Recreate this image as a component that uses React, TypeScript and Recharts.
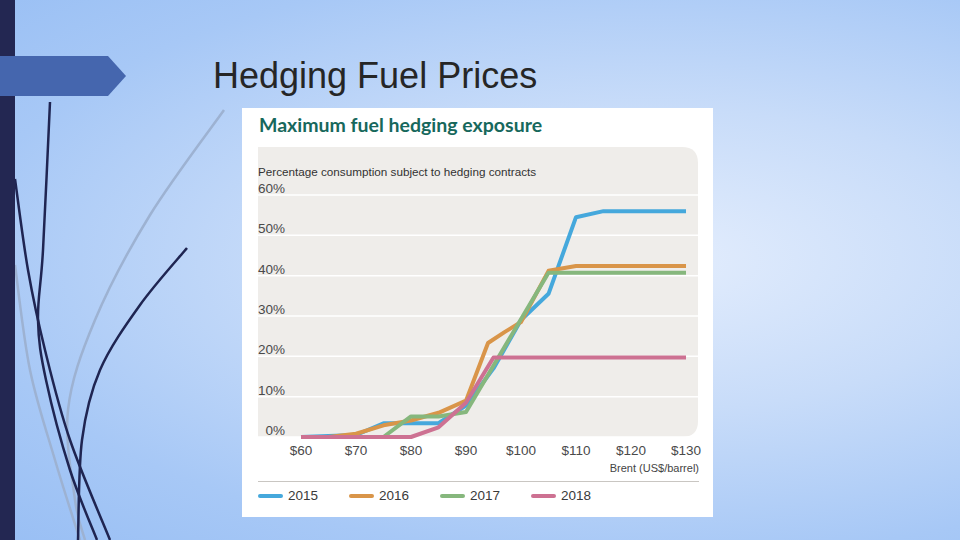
import React from 'react';
import { LineChart, Line, XAxis, YAxis, CartesianGrid, Legend } from 'recharts';

// Brent price (US$/barrel) and share of consumption hedged (%)
const prices2015 = [60, 70, 75, 85, 90, 95, 100, 105, 110, 115, 130];
const share2015 = [0, 0.5, 3.4, 3.4, 7.8, 17, 29, 35.5, 54.5, 56, 56];

const prices2016 = [60, 65, 70, 75, 80, 85, 90, 94, 97, 100, 105, 110, 130];
const share2016 = [0, 0, 0.8, 2.9, 4.1, 6, 9, 23.3, 26, 28.5, 41.2, 42.4, 42.4];

const prices2017 = [60, 75, 80, 85, 90, 105, 130];
const share2017 = [0, 0, 5.1, 5.1, 6.2, 40.7, 40.7];

const prices2018 = [60, 80, 85, 90, 95, 130];
const share2018 = [0, 0, 2.4, 8.5, 19.7, 19.7];

const years = ['2015', '2016', '2017', '2018'];
const xTicks = [60, 70, 80, 90, 100, 110, 120, 130];
const yTicks = [0, 10, 20, 30, 40, 50, 60];

const COLORS = ['#45a8dc', '#d99549', '#86b77d', '#cd7192'];
const FONT = '"Liberation Sans", Arial, sans-serif';

// one row per price, each year's share where it has a point
const allPrices = [prices2015, prices2016, prices2017, prices2018];
const allShares = [share2015, share2016, share2017, share2018];
const priceSet = Array.from(new Set(allPrices.flat())).sort((a, b) => a - b);
const table = priceSet.map((price) => {
  const row: Record<string, number> = { price };
  years.forEach((y, i) => {
    const idx = allPrices[i].indexOf(price);
    if (idx >= 0) row['y' + y] = allShares[i][idx];
  });
  return row;
});

// smooth path through points (catmull-rom -> bezier), for the slide decoration
function smooth(pts: number[][]) {
  let d = `M${pts[0][0]},${pts[0][1]}`;
  for (let i = 0; i < pts.length - 1; i++) {
    const p0 = pts[i - 1] || pts[i];
    const p1 = pts[i];
    const p2 = pts[i + 1];
    const p3 = pts[i + 2] || p2;
    const c1 = [p1[0] + (p2[0] - p0[0]) / 6, p1[1] + (p2[1] - p0[1]) / 6];
    const c2 = [p2[0] - (p3[0] - p1[0]) / 6, p2[1] - (p3[1] - p1[1]) / 6];
    d += ` C${c1[0]},${c1[1]} ${c2[0]},${c2[1]} ${p2[0]},${p2[1]}`;
  }
  return d;
}

const darkCurves = [
  [[50, 102], [43, 250], [38, 320], [46, 380], [70, 470], [97, 540]],
  [[15, 179], [28, 270], [45, 350], [70, 440], [110, 540]],
  [[187, 248], [140, 305], [100, 370], [82, 440], [78, 540]],
];
const lightCurves = [
  [[224, 110], [150, 215], [95, 320], [68, 410], [75, 500], [85, 540]],
  [[15, 265], [30, 370], [55, 460], [80, 540]],
];

function XTick({ x, payload }: any) {
  return (
    <text x={x} y={347} textAnchor="middle" fontSize={13.5} fill="#4a4a4a" fontFamily={FONT}>
      ${payload.value}
    </text>
  );
}

function YTick({ y, payload }: any) {
  return (
    <text x={43} y={y - 2} textAnchor="end" fontSize={13.5} fill="#4a4a4a" fontFamily={FONT}>
      {payload.value}%
    </text>
  );
}

function LegendContent({ payload }: any) {
  return (
    <div style={{ borderTop: '1px solid #c9c6c2', width: 441, display: 'flex', paddingTop: 5 }}>
      {(payload || []).map((item: any) => (
        <div key={item.value} style={{ width: 91, display: 'flex', alignItems: 'center', height: 17 }}>
          <span style={{ width: 25, height: 4, borderRadius: 2, background: item.color, marginRight: 5 }} />
          <span style={{ fontSize: 13.5, color: '#3a3a3a', fontFamily: FONT }}>{item.value}</span>
        </div>
      ))}
    </div>
  );
}

export default function App() {
  return (
    <div
      style={{
        position: 'absolute',
        left: 0,
        top: 0,
        width: 960,
        height: 540,
        overflow: 'hidden',
        background: 'radial-gradient(ellipse at 68% 48%, #e3edfd 0%, #c8dcf9 38%, #a7c8f6 75%, #99bff4 100%)',
      }}
    >
      <svg width={960} height={540} style={{ position: 'absolute', left: 0, top: 0 }}>
        {lightCurves.map((c, i) => (
          <path key={'l' + i} d={smooth(c)} fill="none" stroke="#9db2d2" strokeWidth={2.5} />
        ))}
        {darkCurves.map((c, i) => (
          <path key={'d' + i} d={smooth(c)} fill="none" stroke="#1f2552" strokeWidth={2.5} />
        ))}
        <rect x={0} y={0} width={15} height={540} fill="#232752" />
        <polygon points="0,56 108,56 126,76 108,96 0,96" fill="#4566ae" />
        <text x={213} y={88} fontSize={36} fill="#262626" fontFamily={FONT}>
          Hedging Fuel Prices
        </text>

        <rect x={242} y={108} width={471} height={409} fill="#ffffff" />
        <path d="M258,147 H682 Q698,147 698,163 V421 Q698,437 682,437 H258 Z" fill="#efedea" />
        <text x={259} y={132} fontSize={19.5} fontWeight={700} fill="#17685c" fontFamily="Lato, sans-serif">
          Maximum fuel hedging exposure
        </text>
        <text x={258} y={176} fontSize={11.7} fill="#333333" fontFamily={FONT}>
          Percentage consumption subject to hedging contracts
        </text>
        <text x={699} y={472} fontSize={11} textAnchor="end" fill="#444444" fontFamily={FONT}>
          Brent (US$/barrel)
        </text>
      </svg>

      <div style={{ position: 'absolute', left: 242, top: 108, width: 471, height: 409 }}>
        <LineChart
          width={471}
          height={409}
          data={table}
          margin={{ top: 87, right: 15, bottom: 50, left: 15 }}
        >
          <CartesianGrid vertical={false} stroke="#ffffff" strokeWidth={1.5} />
          <XAxis
            dataKey="price"
            type="number"
            domain={[52.18, 132.18]}
            ticks={xTicks}
            interval={0}
            allowDataOverflow
            axisLine={false}
            tickLine={false}
            height={30}
            tick={<XTick />}
          />
          <YAxis
            type="number"
            domain={[0, 60]}
            ticks={yTicks}
            interval={0}
            width={1}
            axisLine={false}
            tickLine={false}
            tick={<YTick />}
          />
          <Legend
            layout="horizontal"
            verticalAlign="middle"
            align="center"
            wrapperStyle={{ left: 16, top: 373, width: 441 }}
            content={<LegendContent />}
          />
          {years.map((y, i) => (
            <Line
              key={y}
              dataKey={'y' + y}
              name={y}
              type="linear"
              connectNulls
              stroke={COLORS[i]}
              strokeWidth={4}
              strokeLinejoin="round"
              dot={false}
              activeDot={false}
              isAnimationActive={false}
            />
          ))}
        </LineChart>
      </div>
    </div>
  );
}
